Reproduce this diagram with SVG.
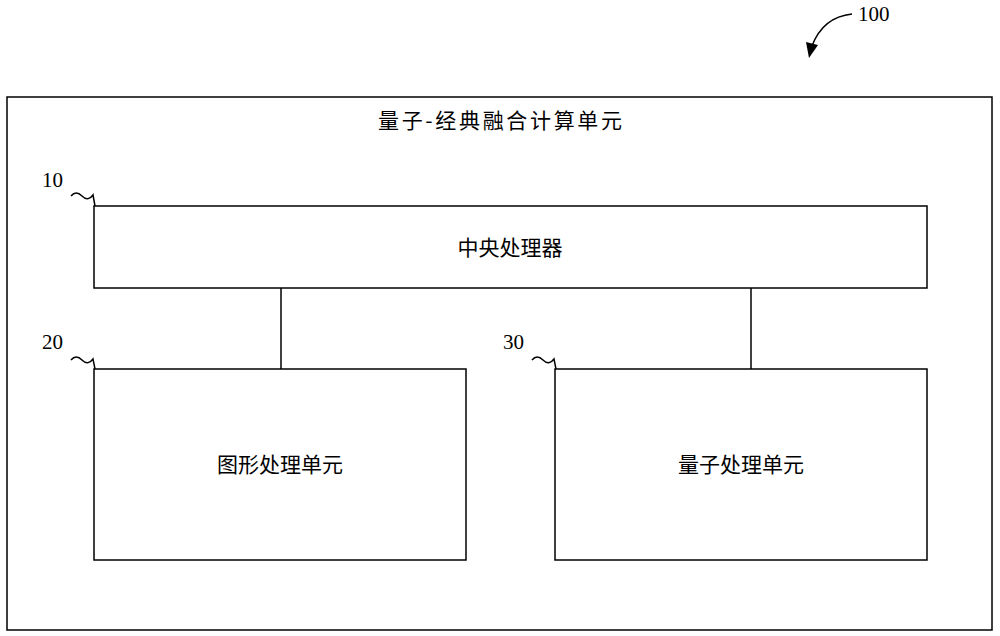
<svg xmlns="http://www.w3.org/2000/svg" width="1000" height="636" viewBox="0 0 1000 636">
<style>
rect{fill:#fff;stroke:#000;stroke-width:1.5}
.t{font-family:"Noto Sans CJK SC","Liberation Serif",serif;font-size:21px;text-anchor:middle}
.n{font-family:"Liberation Serif",serif;font-size:21px}
.s{fill:none;stroke:#000;stroke-width:1.5}
</style>
<rect width="1000" height="636" style="stroke:none"/>
<g id="ref100">
<path class="s" d="M852,14 Q823,17 812,46"/>
<path d="M806,42 L818,45 L809,58 Z"/>
<text class="n" x="858" y="21">100</text>
</g>
<g id="outer"><rect x="7" y="97" width="985" height="533"/><text class="t" x="500" y="128" textLength="244">量子-经典融合计算单元</text></g>
<g id="connectors">
<line class="s" x1="281" y1="288" x2="281" y2="369"/>
<line class="s" x1="751" y1="288" x2="751" y2="369"/>
</g>
<g id="n10"><rect x="94" y="206" width="833" height="82"/><text class="t" x="510" y="255">中央处理器</text>
<text class="n" x="42" y="187">10</text><path class="s" d="M71,196 Q76,190 82,196 Q88,202 93,195 L95,206"/></g>
<g id="n20"><rect x="94" y="369" width="372" height="191"/><text class="t" x="280" y="472">图形处理单元</text>
<text class="n" x="42" y="349">20</text><path class="s" d="M71,360 Q76,354 82,360 Q88,366 93,359 L95,369"/></g>
<g id="n30"><rect x="555" y="369" width="372" height="191"/><text class="t" x="741" y="472">量子处理单元</text>
<text class="n" x="503" y="349">30</text><path class="s" d="M532,360 Q537,354 543,360 Q549,366 554,359 L556,369"/></g>
</svg>
